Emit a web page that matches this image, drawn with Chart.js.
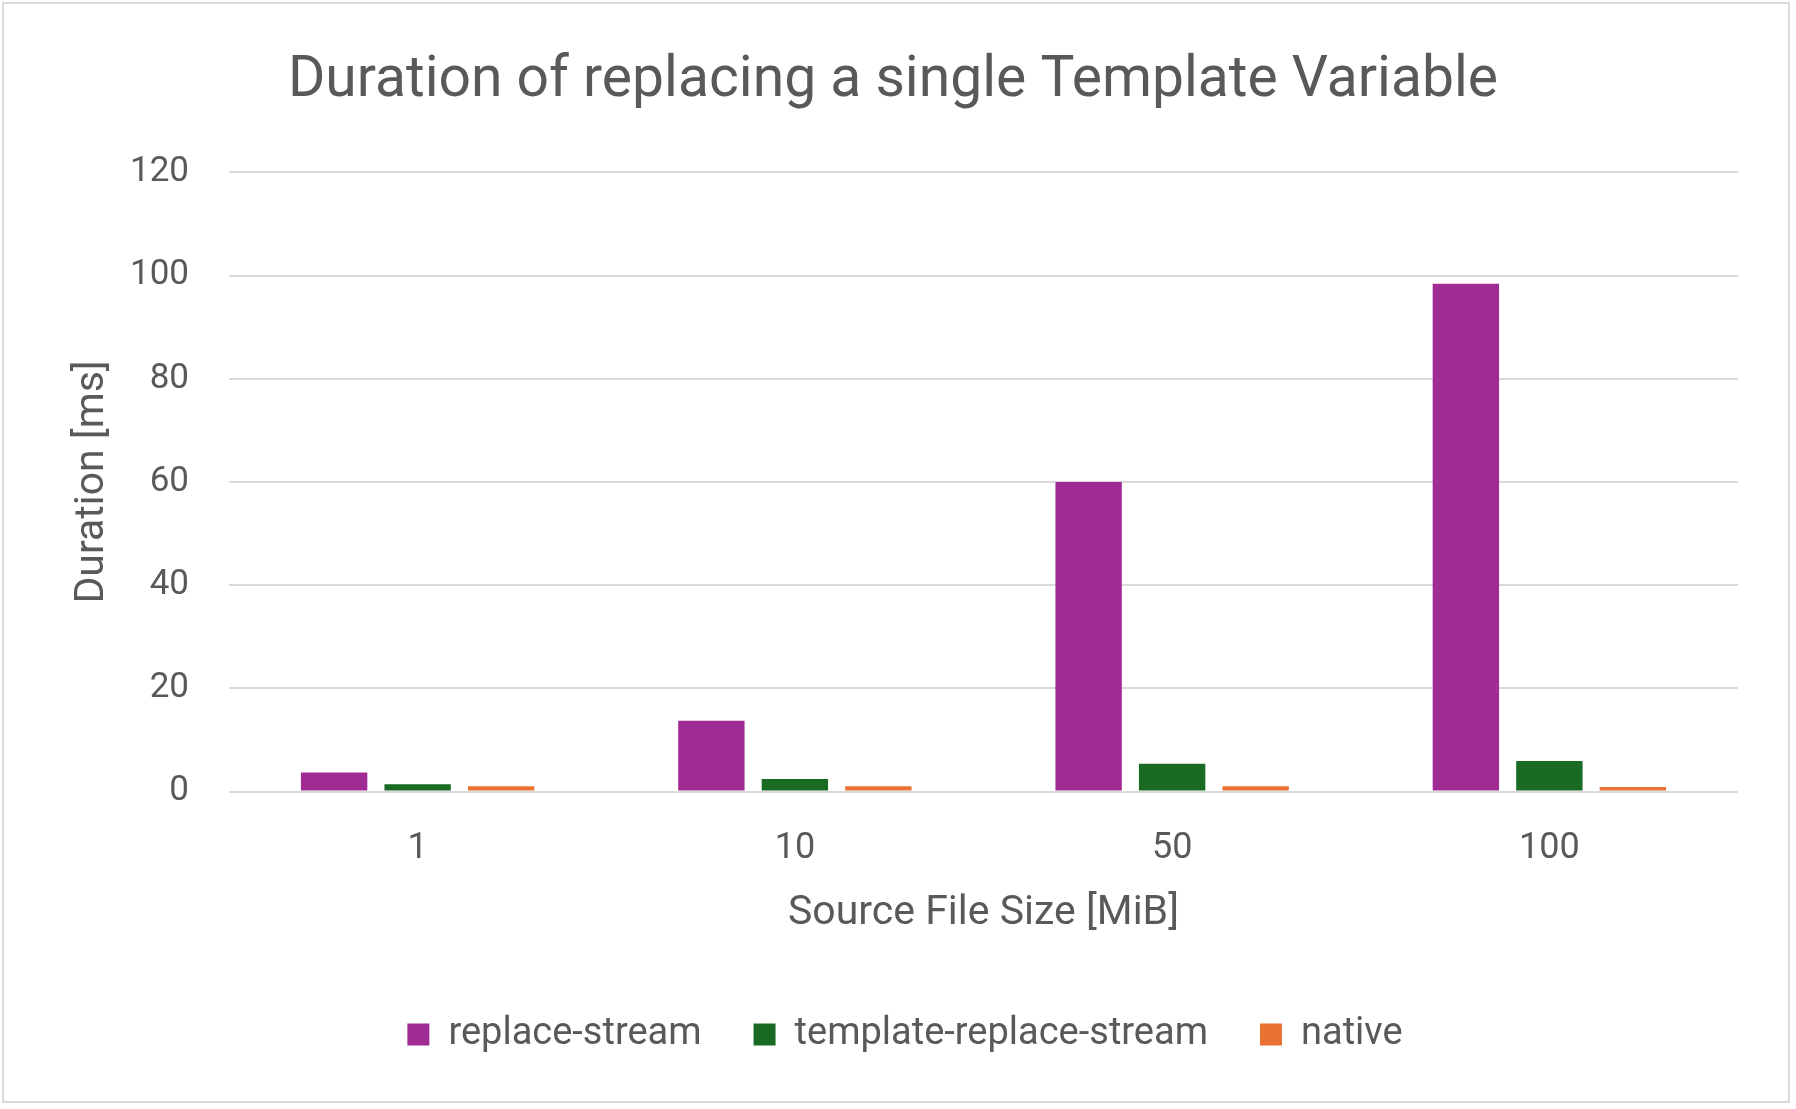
<!DOCTYPE html>
<html>
<head>
<meta charset="utf-8">
<script src="https://cdn.jsdelivr.net/npm/chart.js@4.4.1/dist/chart.umd.min.js"></script>
<style>
  html, body { margin: 0; padding: 0; background: #ffffff; }
  #wrap { position: relative; width: 1796px; height: 1109px; }
  canvas { display: block; }
</style>
</head>
<body>
<div id="wrap"><canvas id="c" width="1796" height="1109"></canvas></div>
<script>
const categories = ["1", "10", "50", "100"];
const replaceStream = [3.7, 13.7, 60.0, 98.4];
const templateReplaceStream = [1.4, 2.4, 5.4, 5.9];
const nativeValues = [1.0, 1.0, 1.0, 0.85];
const yTicks = [0, 20, 40, 60, 80, 100, 120];

const textColor = "#595959";
const gridColor = "#d9d9d9";
const fontFamily = "Roboto, 'Noto Sans', sans-serif";

const borderPlugin = {
  id: "outerBorder",
  beforeDraw(chart) {
    const ctx = chart.ctx;
    ctx.save();
    ctx.fillStyle = "#ffffff";
    ctx.fillRect(0, 0, chart.width, chart.height);
    ctx.strokeStyle = gridColor;
    ctx.lineWidth = 2;
    ctx.strokeRect(3, 3, 1786, 1099);
    ctx.restore();
  },
  afterLayout(chart) {
    if (chart.titleBlock) { chart.titleBlock.left += 4; chart.titleBlock.right += 4; }
    if (chart.legend) { chart.legend.left += 16; chart.legend.right += 16; }
  }
};

new Chart(document.getElementById("c"), {
  type: "bar",
  data: {
    labels: categories,
    datasets: [
      { label: "replace-stream", data: replaceStream, backgroundColor: "#A02B93" },
      { label: "template-replace-stream", data: templateReplaceStream, backgroundColor: "#196B24" },
      { label: "native", data: nativeValues, backgroundColor: "#E97132" }
    ]
  },
  options: {
    responsive: false,
    animation: false,
    devicePixelRatio: 1,
    layout: { padding: { left: 40, right: 58, top: 28, bottom: 45.5 } },
    datasets: { bar: { categoryPercentage: 0.664, barPercentage: 0.795 } },
    plugins: {
      title: {
        display: true,
        text: "Duration of replacing a single Template Variable",
        color: textColor,
        font: { family: fontFamily, size: 57, weight: "normal" },
        padding: { top: 20, bottom: 56 }
      },
      legend: {
        position: "bottom",
        labels: {
          color: textColor,
          font: { family: fontFamily, size: 38 },
          boxWidth: 22,
          boxHeight: 22,
          padding: 52
        }
      },
      tooltip: { enabled: false }
    },
    scales: {
      x: {
        afterFit(scale) { scale.height = 172; },
        grid: { display: false, drawTicks: false },
        border: { display: false },
        ticks: { color: textColor, font: { family: fontFamily, size: 36 }, padding: 35.5 },
        title: {
          display: true,
          text: "Source File Size [MiB]",
          color: textColor,
          font: { family: fontFamily, size: 41 },
          padding: { top: 18, bottom: 25 }
        }
      },
      y: {
        min: 0,
        max: 120,
        afterFit(scale) { scale.width = 189; },
        afterBuildTicks(axis) { axis.ticks = yTicks.map(v => ({ value: v })); },
        grid: { color: gridColor, lineWidth: 2, drawTicks: false },
        border: { display: false },
        ticks: { color: textColor, font: { family: fontFamily, size: 35 }, padding: 40 },
        title: {
          display: true,
          text: "Duration [ms]",
          color: textColor,
          font: { family: fontFamily, size: 41 },
          padding: { top: 28, bottom: 0 }
        }
      }
    }
  },
  plugins: [borderPlugin]
});
</script>
</body>
</html>
